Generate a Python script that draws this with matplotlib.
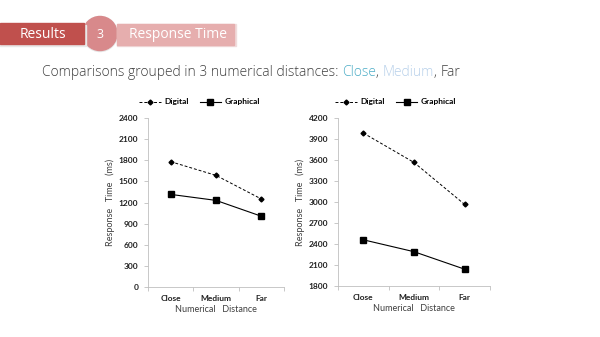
import numpy as np
import matplotlib
matplotlib.use('Agg')
import matplotlib.pyplot as plt
from matplotlib.patches import Rectangle, Circle

# data
categories = ['Close', 'Medium', 'Far']
left_digital = [1780, 1585, 1250]
left_graphical = [1315, 1230, 1005]
right_digital = [3985, 3565, 2965]
right_graphical = [2460, 2290, 2040]
left_ticks = [0, 300, 600, 900, 1200, 1500, 1800, 2100, 2400]
right_ticks = [1800, 2100, 2400, 2700, 3000, 3300, 3600, 3900, 4200]

plt.rcParams['font.family'] = ['Lato', 'DejaVu Sans']

fig = plt.figure(figsize=(6, 3.37), dpi=100)
W, H = 600, 337

def fx(px):
    return px / W

def fy(py):
    return 1 - py / H

# header banner
fig.patches.append(Rectangle((fx(0), fy(46)), fx(86), 21 / H, transform=fig.transFigure,
                             color='#e8e8e8', zorder=0))
fig.patches.append(Rectangle((fx(0), fy(44)), fx(84), 21 / H, transform=fig.transFigure,
                             color='#c0504d', zorder=1))
fig.patches.append(Rectangle((fx(117), fy(46)), fx(119), 22 / H, transform=fig.transFigure,
                             color='#f0dcdc', zorder=0))
fig.patches.append(Rectangle((fx(117), fy(45)), fx(117), 21 / H, transform=fig.transFigure,
                             color='#e6aeae', zorder=1))
fig.text(fx(43), fy(34.5), 'Results', color='white', fontsize=10, ha='center', va='center',
         family=['Open Sans', 'DejaVu Sans'], zorder=3)
fig.text(fx(178), fy(35), 'Response Time', color='white', fontsize=10, ha='center', va='center',
         family=['Open Sans', 'DejaVu Sans'], zorder=3)
circ_ax = fig.add_axes([fx(81), fy(53), fx(38), 38 / H])
circ_ax.set_xlim(0, W * fx(38))
circ_ax.set_ylim(0, 38)
circ_ax.set_aspect('equal')
circ_ax.axis('off')
circ_ax.add_patch(Circle((19, 19), 17.5, color='#e6e6e6'))
circ_ax.add_patch(Circle((19, 19.5), 17, color='#d8898b'))
circ_ax.text(19, 19, '3', color='white', fontsize=9, ha='center', va='center',
             family=['Open Sans', 'DejaVu Sans'])

# subtitle with coloured words
pieces = [('Comparisons grouped in 3 numerical distances: ', '#404040'),
          ('Close', '#4bacc6'), (', ', '#404040'), ('Medium', '#b7d0ea'),
          (', ', '#404040'), ('Far', '#404040')]
renderer = fig.canvas.get_renderer()
x = fx(42)
for txt, col in pieces:
    t = fig.text(x, fy(73), txt, color=col, fontsize=10, va='center',
                 family=['Open Sans', 'DejaVu Sans'], fontweight='light')
    bb = t.get_window_extent(renderer=renderer)
    x += bb.width / fig.bbox.width


def draw_panel(rect, digital, graphical, ticks):
    ax = fig.add_axes(rect)
    xs = np.arange(len(categories))
    ax.plot(xs, digital, color='black', lw=0.7, ls=(0, (3, 2)), marker='D',
            markersize=2.5, label='Digital')
    ax.plot(xs, graphical, color='black', lw=0.8, marker='s', markersize=4,
            label='Graphical')
    ax.set_xlim(-0.5, len(categories) - 0.5)
    ax.set_ylim(ticks[0], ticks[-1])
    ax.set_yticks(ticks)
    ax.set_yticklabels([str(t) for t in ticks], fontsize=6, fontweight='bold', color='#202020')
    ax.set_xticks(xs)
    ax.set_xticklabels(categories, fontsize=6, fontweight='bold', color='#202020')
    ax.set_xticks([-0.5, 0.5, 1.5, 2.5], minor=True)
    ax.tick_params(axis='x', which='major', length=0, pad=6)
    ax.tick_params(axis='x', which='minor', length=3, color='#bfbfbf', width=0.6)
    ax.tick_params(axis='y', length=3, color='#bfbfbf', width=0.6, pad=4)
    for s in ['top', 'right']:
        ax.spines[s].set_visible(False)
    for s in ['left', 'bottom']:
        ax.spines[s].set_color('#bfbfbf')
        ax.spines[s].set_linewidth(0.6)
    ax.set_ylabel('Response   Time   (ms)', fontsize=6.5, color='#404040', labelpad=3)
    ax.set_xlabel('Numerical   Distance', fontsize=6.5, color='#404040', labelpad=2)
    ax.legend(loc='lower center', bbox_to_anchor=(0.38, 1.03), ncol=2, frameon=False,
              prop={'size': 6, 'weight': 'bold'}, handlelength=2.6, columnspacing=1.3,
              handletextpad=0.4)
    return ax


draw_panel([fx(148), fy(287), fx(136), 169 / H], left_digital, left_graphical, left_ticks)
draw_panel([fx(338), fy(286), fx(152), 168 / H], right_digital, right_graphical, right_ticks)

fig.savefig('out.png', dpi=100)
